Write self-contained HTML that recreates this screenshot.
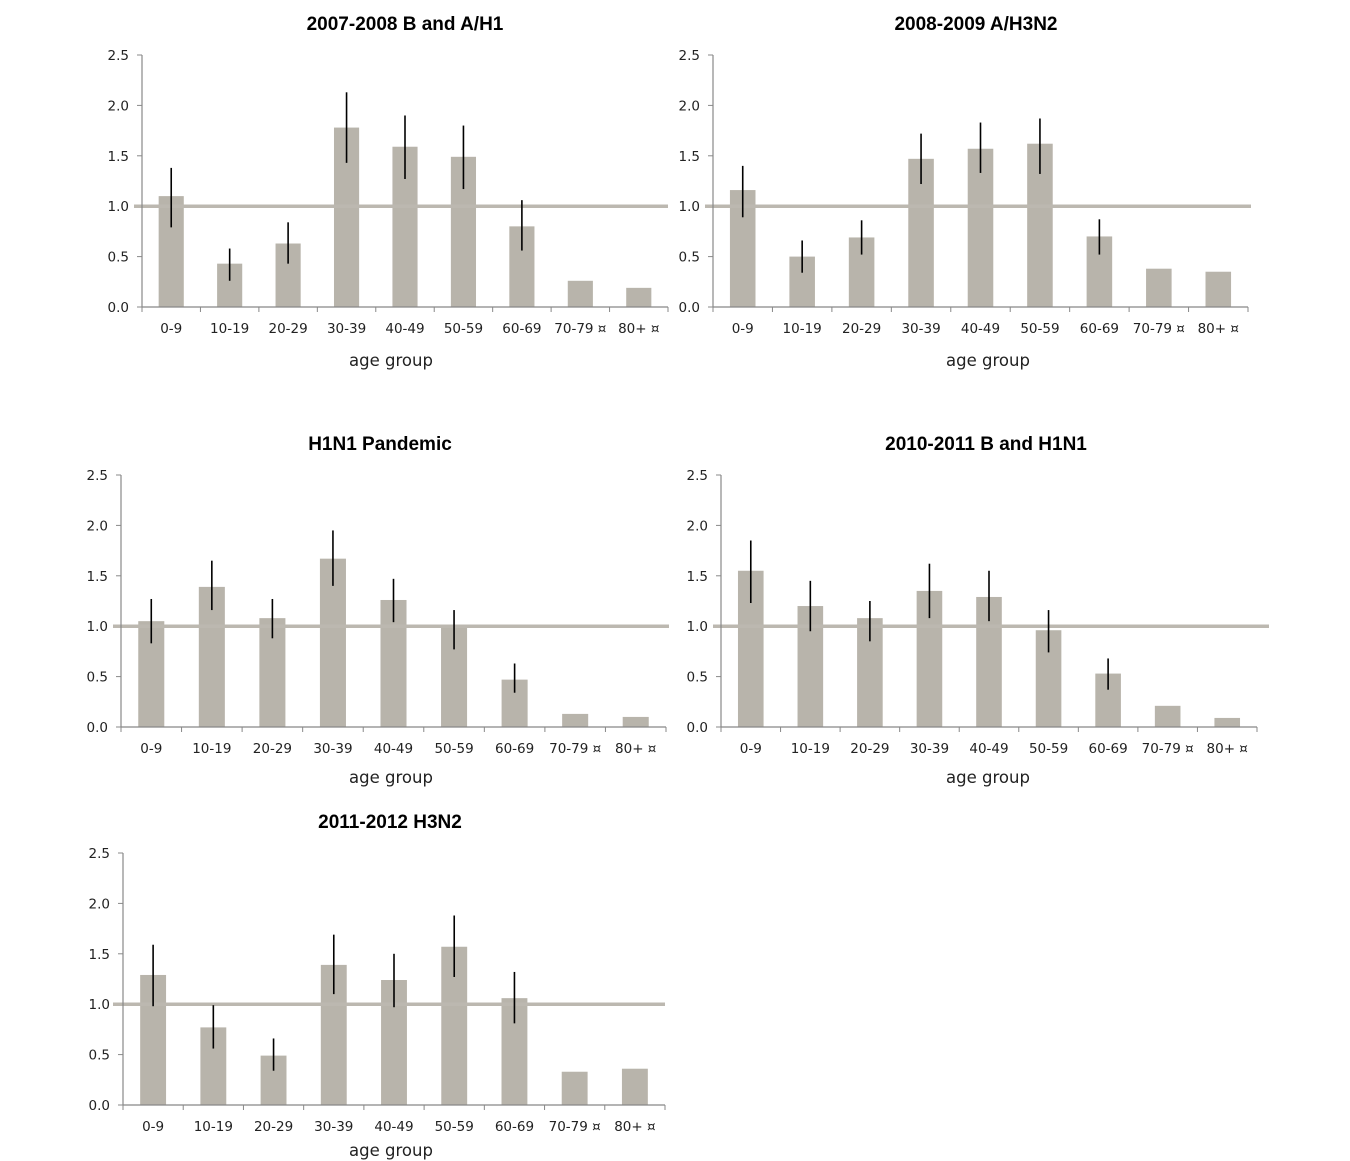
<!DOCTYPE html>
<html><head><meta charset="utf-8"><style>
html,body{margin:0;padding:0;background:#fff;}
svg{display:block;}
text{font-family:"DejaVu Sans","Liberation Sans",sans-serif;fill:#222;}
.t{font-family:"Liberation Sans",sans-serif;font-weight:bold;font-size:19px;fill:#000;}
</style></head><body>
<svg id="s" width="1350" height="1161" xmlns="http://www.w3.org/2000/svg"></svg>
<script>
var charts=[
{t:"2007-2008 B and A/H1",tx:405,ty:30,x0:142,x1:668,y0:55,rl0:134,rl1:668,lab:328,ag:366,agx:391,
v:[[1.10,0.79,1.38],[0.43,0.26,0.58],[0.63,0.43,0.84],[1.78,1.43,2.13],[1.59,1.27,1.90],[1.49,1.17,1.80],[0.80,0.56,1.06],[0.26],[0.19]]},
{t:"2008-2009 A/H3N2",tx:976,ty:30,x0:713,x1:1248,y0:55,rl0:705,rl1:1251,lab:328,ag:366,agx:988,
v:[[1.16,0.89,1.40],[0.50,0.34,0.66],[0.69,0.52,0.86],[1.47,1.22,1.72],[1.57,1.33,1.83],[1.62,1.32,1.87],[0.70,0.52,0.87],[0.38],[0.35]]},
{t:"H1N1 Pandemic",tx:380,ty:450,x0:121,x1:666,y0:475,rl0:113,rl1:669,lab:748,ag:783,agx:391,
v:[[1.05,0.83,1.27],[1.39,1.16,1.65],[1.08,0.88,1.27],[1.67,1.40,1.95],[1.26,1.04,1.47],[1.00,0.77,1.16],[0.47,0.34,0.63],[0.13],[0.10]]},
{t:"2010-2011 B and H1N1",tx:986,ty:450,x0:721,x1:1257,y0:475,rl0:713,rl1:1269,lab:748,ag:783,agx:988,
v:[[1.55,1.23,1.85],[1.20,0.95,1.45],[1.08,0.85,1.25],[1.35,1.08,1.62],[1.29,1.05,1.55],[0.96,0.74,1.16],[0.53,0.37,0.68],[0.21],[0.09]]},
{t:"2011-2012 H3N2",tx:390,ty:828,x0:123,x1:665,y0:853,rl0:113,rl1:665,lab:1126,ag:1156,agx:391,
v:[[1.29,0.98,1.59],[0.77,0.56,0.99],[0.49,0.34,0.66],[1.39,1.10,1.69],[1.24,0.97,1.50],[1.57,1.27,1.88],[1.06,0.81,1.32],[0.33],[0.36]]}
];
var cats=["0-9","10-19","20-29","30-39","40-49","50-59","60-69","70-79 \u00a4","80+ \u00a4"];
var h="";
charts.forEach(function(c){
 var H=252,yb=c.y0+H,k=H/2.5,w=(c.x1-c.x0)/9,bw=w*0.43;
 h+='<text class="t" x="'+c.tx+'" y="'+c.ty+'" text-anchor="middle">'+c.t+'</text>';
 for(var i=0;i<=5;i++){var y=yb-i*0.5*k;
  h+='<line x1="'+(c.x0-5)+'" x2="'+c.x0+'" y1="'+y+'" y2="'+y+'" stroke="#888" stroke-width="1"/>';
  h+='<text x="'+(c.x0-13)+'" y="'+(y+5)+'" font-size="13.5" text-anchor="end">'+(i*0.5).toFixed(1)+'</text>';}
 c.v.forEach(function(d,i){var cx=c.x0+w*(i+0.5);
  h+='<rect x="'+(cx-bw/2)+'" y="'+(yb-d[0]*k)+'" width="'+bw+'" height="'+(d[0]*k)+'" fill="#b8b4ab"/>';});
 h+='<line x1="'+c.rl0+'" x2="'+c.rl1+'" y1="'+(yb-k)+'" y2="'+(yb-k)+'" stroke="#bcb8b0" stroke-width="3.5"/>';
 c.v.forEach(function(d,i){var cx=c.x0+w*(i+0.5);
  if(d.length>1)h+='<line x1="'+cx+'" x2="'+cx+'" y1="'+(yb-d[2]*k)+'" y2="'+(yb-d[1]*k)+'" stroke="#000" stroke-width="1.6"/>';
  h+='<text x="'+cx+'" y="'+(c.lab+5)+'" font-size="13.5" text-anchor="middle">'+cats[i]+'</text>';});
 h+='<line x1="'+c.x0+'" x2="'+c.x0+'" y1="'+c.y0+'" y2="'+yb+'" stroke="#888" stroke-width="1.2"/>';
 h+='<line x1="'+c.x0+'" x2="'+c.x1+'" y1="'+yb+'" y2="'+yb+'" stroke="#888" stroke-width="1.2"/>';
 for(var j=0;j<=9;j++){var x=c.x0+j*w;h+='<line x1="'+x+'" x2="'+x+'" y1="'+yb+'" y2="'+(yb+5)+'" stroke="#888"/>';}
 h+='<text x="'+c.agx+'" y="'+c.ag+'" font-size="16.5" text-anchor="middle">age group</text>';
});
document.getElementById("s").innerHTML=h;
</script>
</body></html>
